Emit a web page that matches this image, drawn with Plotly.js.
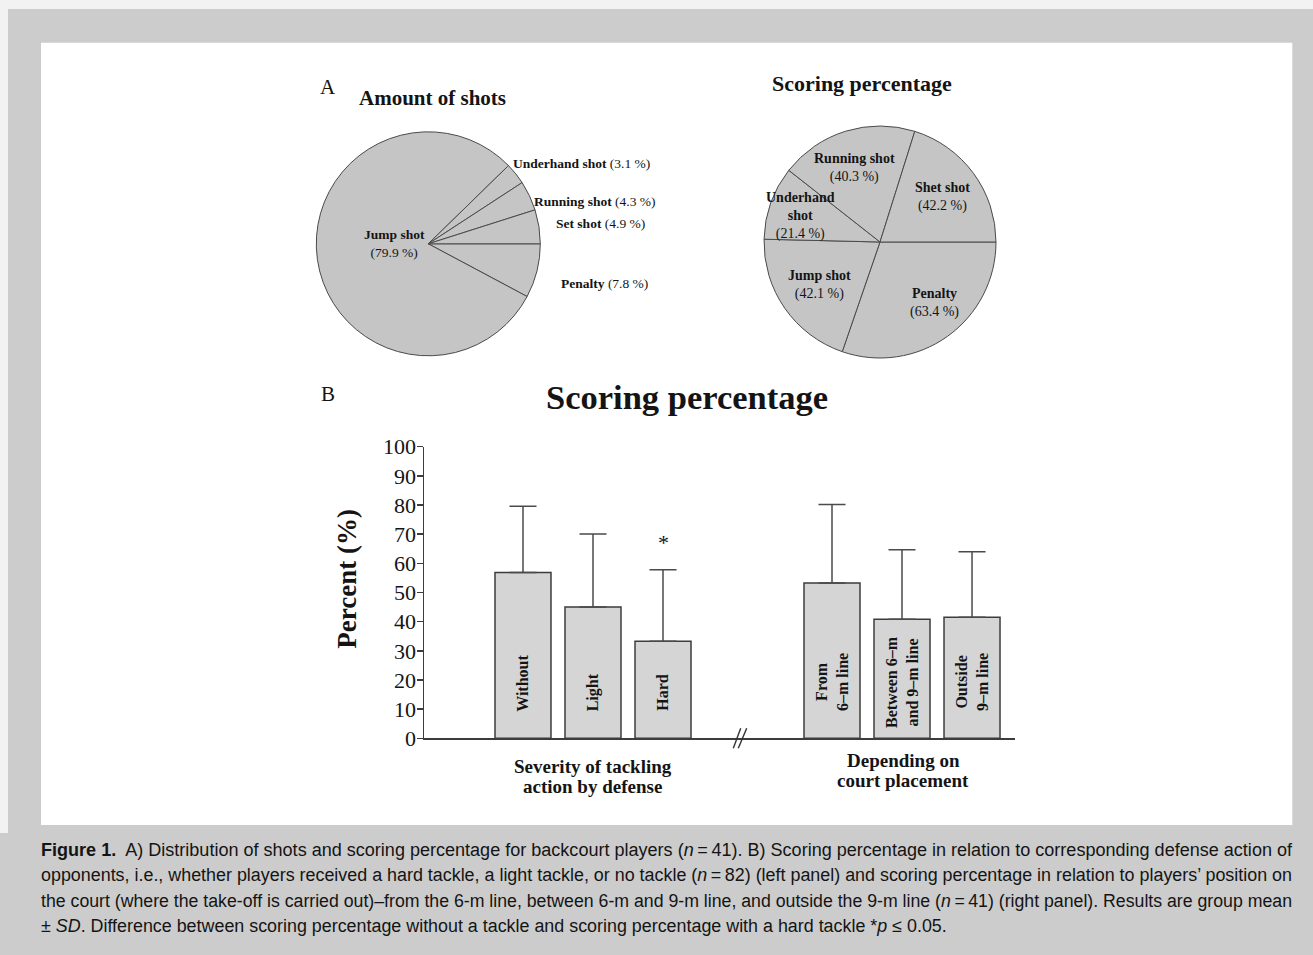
<!DOCTYPE html>
<html>
<head>
<meta charset="utf-8">
<script src="https://cdn.plot.ly/plotly-3.0.1.min.js"></script>
<style>
html,body{margin:0;padding:0;background:#cccccc;}
#wrap{position:relative;width:1313px;height:955px;overflow:hidden;}
#chart{position:absolute;left:0;top:0;width:1313px;height:955px;}
.cap{position:absolute;left:41px;white-space:nowrap;font-family:"Liberation Sans Narrow","Liberation Sans",Arial,sans-serif;font-size:18px;line-height:18px;color:#141414;transform-origin:0 0;}
</style>
</head>
<body>
<div id="wrap"><div id="chart"></div><div id="caption"></div></div>
<script>
// ---------------- data ----------------
const shotLabels = ['Penalty', 'Jump shot', 'Underhand shot', 'Running shot', 'Set shot'];
const shotShares = [7.8, 79.9, 3.1, 4.3, 4.9];

const scoreLabels = ['Penalty', 'Jump shot', 'Underhand shot', 'Running shot', 'Shet shot'];
const scorePcts = [63.4, 42.1, 21.4, 40.3, 42.2];

const tackleCats = ['Without', 'Light', 'Hard'];
const tackleMean = [56.9, 45.0, 33.3];
const tackleSD = [22.7, 25.1, 24.5];

const placeCats = ['From 6–m line', 'Between 6–m and 9–m line', 'Outside 9–m line'];
const placeLabels = ['From<br>6–m line', 'Between 6–m<br>and 9–m line', 'Outside<br>9–m line'];
const placeMean = [53.3, 40.8, 41.5];
const placeSD = [26.9, 23.9, 22.5];

const yTickVals = [0, 10, 20, 30, 40, 50, 60, 70, 80, 90, 100];

const captionLines = [
  '<b>Figure 1.</b>&nbsp; A) Distribution of shots and scoring percentage for backcourt players (<i>n</i>\u2009=\u200941). B) Scoring percentage in relation to corresponding defense action of',
  'opponents, i.e., whether players received a hard tackle, a light tackle, or no tackle (<i>n</i>\u2009=\u200982) (left panel) and scoring percentage in relation to players\u2019 position on',
  'the court (where the take-off is carried out)\u2013from the 6-m line, between 6-m and 9-m line, and outside the 9-m line (<i>n</i>\u2009=\u200941) (right panel). Results are group mean',
  '\u00b1 <i>SD</i>. Difference between scoring percentage without a tackle and scoring percentage with a hard tackle *<i>p</i> \u2264 0.05.'
];

// ---------------- layout helpers ----------------
const W = 1313, H = 955;
const px = x => x / W;
const py = y => 1 - y / H;
const SERIF = '"Liberation Serif", "Times New Roman", Times, serif';
const INK = '#141414';
const PIE_FILL = '#c5c5c5';
const BAR_FILL = '#d5d5d5';
const EDGE = '#3c3c3c';

function pieDomain(cx, cy, r) {
  return {x: [px(cx - r), px(cx + r)], y: [py(cy + r), py(cy - r)]};
}

const pct = v => '(' + v.toFixed(1) + ' %)';

// ---------------- traces ----------------
const traces = [
  {
    type: 'pie', labels: shotLabels, values: shotShares, sort: false,
    direction: 'clockwise', rotation: 90, textinfo: 'none',
    hoverinfo: 'label+value',
    marker: {colors: shotLabels.map(() => PIE_FILL), line: {color: '#4a4a4a', width: 1}},
    domain: pieDomain(428.3, 243.8, 112), showlegend: false
  },
  {
    type: 'pie', labels: scoreLabels, values: scorePcts, sort: false,
    direction: 'clockwise', rotation: 90, textinfo: 'none',
    hoverinfo: 'label+value',
    marker: {colors: scoreLabels.map(() => PIE_FILL), line: {color: '#4a4a4a', width: 1}},
    domain: pieDomain(880, 242, 116), showlegend: false
  },
  {
    type: 'bar', x: tackleCats, y: tackleMean, xaxis: 'x', yaxis: 'y',
    marker: {color: BAR_FILL, line: {color: EDGE, width: 1.5}},
    error_y: {type: 'data', symmetric: false, array: tackleSD, arrayminus: tackleSD.map(() => 0),
              color: '#4a4a4a', thickness: 1.5, width: 13.5},
    showlegend: false
  },
  {
    type: 'bar', x: placeCats, y: placeMean, xaxis: 'x2', yaxis: 'y',
    marker: {color: BAR_FILL, line: {color: EDGE, width: 1.5}},
    error_y: {type: 'data', symmetric: false, array: placeSD, arrayminus: placeSD.map(() => 0),
              color: '#4a4a4a', thickness: 1.5, width: 13.5},
    showlegend: false
  }
];

// ---------------- annotations ----------------
const ann = [];
function paperText(text, x, y, size, opts) {
  ann.push(Object.assign({
    text: text, xref: 'paper', yref: 'paper', x: px(x), y: py(y),
    xanchor: 'center', yanchor: 'middle', showarrow: false,
    font: {family: SERIF, size: size, color: INK}
  }, opts || {}));
}

// titles
paperText('A', 328, 86.7, 21);
paperText('<b>Amount of shots</b>', 432, 97.7, 21);
paperText('<b>Scoring percentage</b>', 861.7, 83.3, 22);
paperText('B', 328, 394, 21);
paperText('<b>Scoring percentage</b>', 687, 397, 34.5);

// pie 1 labels (positions per slice label)
const pie1Pos = {
  'Penalty': [604, 284], 'Jump shot': [394.3, 243.7], 'Underhand shot': [581.5, 163.3],
  'Running shot': [594.5, 201.7], 'Set shot': [600, 223.3]
};
shotLabels.forEach((lab, i) => {
  const p = pie1Pos[lab];
  const txt = lab === 'Jump shot'
    ? '<b>' + lab + '</b><br>' + pct(shotShares[i])
    : '<b>' + lab + '</b> ' + pct(shotShares[i]);
  paperText(txt, p[0], p[1], 13.5);
});

// pie 2 labels
const pie2Pos = {
  'Penalty': [934, 303], 'Jump shot': [819, 285], 'Underhand shot': [800.5, 216.5],
  'Running shot': [854.3, 168.5], 'Shet shot': [943, 196.5]
};
scoreLabels.forEach((lab, i) => {
  const p = pie2Pos[lab];
  const name = lab === 'Underhand shot' ? 'Underhand<br>shot' : lab;
  paperText('<b>' + name.replace('<br>', '</b><br><b>') + '</b><br>' + pct(scorePcts[i]), p[0], p[1], 14);
});

// bar labels inside bars
tackleCats.forEach(c => {
  ann.push({text: '<b>' + c + '</b>', xref: 'x', yref: 'y', x: c, y: 0, yanchor: 'bottom', xanchor: 'center',
            yshift: 25, textangle: -90, showarrow: false, font: {family: SERIF, size: 16, color: INK}});
});
placeCats.forEach((c, i) => {
  ann.push({text: '<b>' + placeLabels[i].replace('<br>', '</b><br><b>') + '</b>', xref: 'x2', yref: 'y', x: c, y: 19.3,
            yanchor: 'middle', xanchor: 'center', textangle: -90, showarrow: false,
            font: {family: SERIF, size: 16, color: INK}});
});

// significance asterisk above "Hard"
ann.push({text: '*', xref: 'x', yref: 'y', x: 'Hard', y: 67, showarrow: false,
          xanchor: 'center', yanchor: 'middle', font: {family: SERIF, size: 22, color: INK}});

// y title
paperText('<b>Percent (%)</b>', 346.7, 579, 27, {textangle: -90});

// group titles
paperText('<b>Severity of tackling</b>', 592.7, 766.7, 19);
paperText('<b>action by defense</b>', 592.7, 786.7, 19);
paperText('<b>Depending on</b>', 903, 760, 19);
paperText('<b>court placement</b>', 903, 780, 19);

// ---------------- shapes (background panels, axis break) ----------------
function rectPx(x0, y0, x1, y1, color) {
  return {type: 'rect', xref: 'paper', yref: 'paper', x0: px(x0), x1: px(x1), y0: py(y1), y1: py(y0),
          fillcolor: color, line: {width: 0}, layer: 'below'};
}
function linePx(x0, y0, x1, y1) {
  return {type: 'line', xref: 'paper', yref: 'paper', x0: px(x0), x1: px(x1), y0: py(y0), y1: py(y1),
          line: {color: '#333333', width: 1.4}, layer: 'above'};
}
const shapes = [
  rectPx(0, 0, W, 9, '#f2f2f2'),
  rectPx(0, 0, 8, 833, '#f2f2f2'),
  rectPx(41, 42.7, 1292.3, 825, '#ffffff'),
  linePx(733.3, 748.3, 740.7, 728.3),
  linePx(738.3, 748.3, 746.7, 728.3)
];

const axisCommon = {
  type: 'category', showline: true, linecolor: EDGE, linewidth: 1.5, ticks: '',
  showticklabels: false, showgrid: false, zeroline: false, fixedrange: true
};

const layout = {
  width: W, height: H, margin: {l: 0, r: 0, t: 0, b: 0, pad: 0},
  paper_bgcolor: '#cccccc', plot_bgcolor: 'rgba(0,0,0,0)',
  showlegend: false, bargap: 0.2,
  font: {family: SERIF, color: INK},
  xaxis: Object.assign({domain: [px(424), px(737)], anchor: 'y', range: [-1.414, 3.057]}, axisCommon),
  xaxis2: Object.assign({domain: [px(737), px(1015)], anchor: 'y', range: [-1.357, 2.614]}, axisCommon),
  yaxis: {
    domain: [py(738.3), py(446.7)], range: [0, 100], anchor: 'x',
    tickmode: 'array', tickvals: yTickVals, ticktext: yTickVals.map(String),
    ticks: 'outside', ticklen: 6, tickwidth: 1.5, tickcolor: EDGE, ticklabelstandoff: -4,
    showline: true, linecolor: EDGE, linewidth: 1.5, showgrid: false, zeroline: false,
    tickfont: {family: SERIF, size: 22, color: INK}, fixedrange: true
  },
  shapes: shapes,
  annotations: ann
};

Plotly.newPlot('chart', traces, layout, {staticPlot: true, displayModeBar: false});

// ---------------- caption (justified lines) ----------------
const capBox = document.getElementById('caption');
const baselines = [856, 881.3, 906.6, 932];
const capWidth = 1292 - 41;
const divs = captionLines.map((t, i) => {
  const d = document.createElement('div');
  d.className = 'cap';
  d.innerHTML = t;
  d.style.top = (baselines[i] - 14.9) + 'px';
  capBox.appendChild(d);
  return d;
});
function fitCaption() {
  const scales = [];
  divs.forEach((d, i) => {
    d.style.transform = 'none';
    const w = d.getBoundingClientRect().width;
    if (i < divs.length - 1) scales.push(capWidth / w);
  });
  const avg = scales.reduce((a, b) => a + b, 0) / scales.length;
  divs.forEach((d, i) => {
    const s = i < divs.length - 1 ? scales[i] : avg;
    d.style.transform = 'scaleX(' + s + ')';
  });
}
fitCaption();
if (document.fonts && document.fonts.ready) document.fonts.ready.then(fitCaption);
</script>
</body>
</html>
